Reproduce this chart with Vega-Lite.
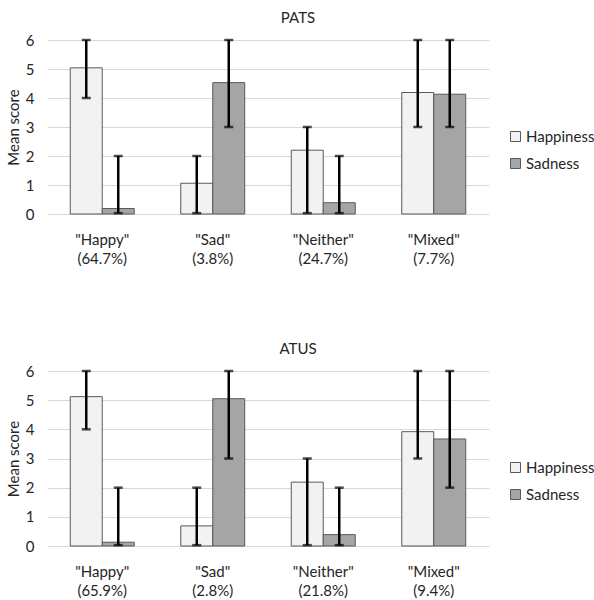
{
  "$schema": "https://vega.github.io/schema/vega-lite/v6.json",
  "padding": {"top": 11, "left": 6, "right": 0, "bottom": 4},
  "background": "white",
  "config": {
    "font": "Lato",
    "view": {"stroke": null},
    "title": {"fontSize": 15, "fontWeight": "normal", "color": "#262626", "font": "Lato", "offset": 7, "dx": 30},
    "axisY": {"labelFont": "Lato", "labelFontSize": 15, "labelColor": "#262626", "titleFont": "Lato", "titleFontSize": 15, "titleFontWeight": "normal", "titleColor": "#262626", "grid": true, "gridColor": "#d9d9d9", "domain": false, "ticks": false, "labelPadding": 13, "titlePadding": 4, "labelOverlap": false}
  },
  "datasets": {
    "pats": [
      {"cat": "\"Happy\"|(64.7%)", "series": "Happiness", "mean": 5.04, "lo": 4, "hi": 6},
      {"cat": "\"Happy\"|(64.7%)", "series": "Sadness", "mean": 0.19, "lo": 0.03, "hi": 2},
      {"cat": "\"Sad\"|(3.8%)", "series": "Happiness", "mean": 1.06, "lo": 0.03, "hi": 2},
      {"cat": "\"Sad\"|(3.8%)", "series": "Sadness", "mean": 4.53, "lo": 3, "hi": 6},
      {"cat": "\"Neither\"|(24.7%)", "series": "Happiness", "mean": 2.2, "lo": 0.03, "hi": 3},
      {"cat": "\"Neither\"|(24.7%)", "series": "Sadness", "mean": 0.39, "lo": 0.03, "hi": 2},
      {"cat": "\"Mixed\"|(7.7%)", "series": "Happiness", "mean": 4.19, "lo": 3, "hi": 6},
      {"cat": "\"Mixed\"|(7.7%)", "series": "Sadness", "mean": 4.13, "lo": 3, "hi": 6}
    ],
    "atus": [
      {"cat": "\"Happy\"|(65.9%)", "series": "Happiness", "mean": 5.12, "lo": 4, "hi": 6},
      {"cat": "\"Happy\"|(65.9%)", "series": "Sadness", "mean": 0.13, "lo": 0.03, "hi": 2},
      {"cat": "\"Sad\"|(2.8%)", "series": "Happiness", "mean": 0.69, "lo": 0.03, "hi": 2},
      {"cat": "\"Sad\"|(2.8%)", "series": "Sadness", "mean": 5.05, "lo": 3, "hi": 6},
      {"cat": "\"Neither\"|(21.8%)", "series": "Happiness", "mean": 2.19, "lo": 0.03, "hi": 3},
      {"cat": "\"Neither\"|(21.8%)", "series": "Sadness", "mean": 0.39, "lo": 0.03, "hi": 2},
      {"cat": "\"Mixed\"|(9.4%)", "series": "Happiness", "mean": 3.92, "lo": 3, "hi": 6},
      {"cat": "\"Mixed\"|(9.4%)", "series": "Sadness", "mean": 3.67, "lo": 2, "hi": 6}
    ]
  },
  "spacing": 76,
  "resolve": {"scale": {"color": "independent", "x": "independent", "xOffset": "independent"}},
  "vconcat": [
    {
      "title": {"text": "PATS"},
      "width": 442,
      "height": 174,
      "data": {"name": "pats"},
      "encoding": {
        "x": {"field": "cat", "type": "nominal", "sort": null, "scale": {"paddingInner": 0, "paddingOuter": 0},
          "axis": {"title": null, "labelAngle": 0, "labelExpr": "split(datum.label, '|')", "labelFont": "Lato", "labelFontSize": 15, "labelColor": "#262626", "labelLineHeight": 19, "labelPadding": 18, "ticks": false, "domain": false, "labelBaseline": "top"}},
        "xOffset": {"field": "series", "type": "nominal", "scale": {"paddingInner": 0, "paddingOuter": 0.727}}
      },
      "layer": [
        {
          "mark": {"type": "bar", "stroke": "#595959", "strokeWidth": 1},
          "encoding": {
            "y": {"field": "mean", "type": "quantitative", "scale": {"domain": [0, 6], "nice": false},
              "axis": {"title": "Mean score", "values": [0, 1, 2, 3, 4, 5, 6]}},
            "color": {"field": "series", "type": "nominal", "scale": {"domain": ["Happiness", "Sadness"], "range": ["#f2f2f2", "#a5a5a5"]},
              "legend": {"title": null, "orient": "none", "legendX": 461, "legendY": 89, "labelFont": "Lato", "labelFontSize": 15, "labelColor": "#262626", "symbolType": "square", "symbolSize": 100, "symbolStrokeColor": "#595959", "symbolStrokeWidth": 1, "rowPadding": 11, "labelOffset": 3}}
          }
        },
        {
          "mark": {"type": "rule", "color": "black", "strokeWidth": 2.5},
          "encoding": {"y": {"field": "lo", "type": "quantitative", "axis": {"title": "Mean score", "values": [0, 1, 2, 3, 4, 5, 6]}}, "y2": {"field": "hi"}}
        },
        {
          "mark": {"type": "tick", "color": "black", "thickness": 2.5, "size": 9, "orient": "horizontal"},
          "encoding": {"y": {"field": "lo", "type": "quantitative", "axis": {"title": "Mean score", "values": [0, 1, 2, 3, 4, 5, 6]}}}
        },
        {
          "mark": {"type": "tick", "color": "black", "thickness": 2.5, "size": 9, "orient": "horizontal"},
          "encoding": {"y": {"field": "hi", "type": "quantitative", "axis": {"title": "Mean score", "values": [0, 1, 2, 3, 4, 5, 6]}}}
        }
      ]
    },
    {
      "title": {"text": "ATUS"},
      "width": 442,
      "height": 175,
      "data": {"name": "atus"},
      "encoding": {
        "x": {"field": "cat", "type": "nominal", "sort": null, "scale": {"paddingInner": 0, "paddingOuter": 0},
          "axis": {"title": null, "labelAngle": 0, "labelExpr": "split(datum.label, '|')", "labelFont": "Lato", "labelFontSize": 15, "labelColor": "#262626", "labelLineHeight": 19, "labelPadding": 18, "ticks": false, "domain": false, "labelBaseline": "top"}},
        "xOffset": {"field": "series", "type": "nominal", "scale": {"paddingInner": 0, "paddingOuter": 0.727}}
      },
      "layer": [
        {
          "mark": {"type": "bar", "stroke": "#595959", "strokeWidth": 1},
          "encoding": {
            "y": {"field": "mean", "type": "quantitative", "scale": {"domain": [0, 6], "nice": false},
              "axis": {"title": "Mean score", "values": [0, 1, 2, 3, 4, 5, 6]}},
            "color": {"field": "series", "type": "nominal", "scale": {"domain": ["Happiness", "Sadness"], "range": ["#f2f2f2", "#a5a5a5"]},
              "legend": {"title": null, "orient": "none", "legendX": 461, "legendY": 89, "labelFont": "Lato", "labelFontSize": 15, "labelColor": "#262626", "symbolType": "square", "symbolSize": 100, "symbolStrokeColor": "#595959", "symbolStrokeWidth": 1, "rowPadding": 11, "labelOffset": 3}}
          }
        },
        {
          "mark": {"type": "rule", "color": "black", "strokeWidth": 2.5},
          "encoding": {"y": {"field": "lo", "type": "quantitative", "axis": {"title": "Mean score", "values": [0, 1, 2, 3, 4, 5, 6]}}, "y2": {"field": "hi"}}
        },
        {
          "mark": {"type": "tick", "color": "black", "thickness": 2.5, "size": 9, "orient": "horizontal"},
          "encoding": {"y": {"field": "lo", "type": "quantitative", "axis": {"title": "Mean score", "values": [0, 1, 2, 3, 4, 5, 6]}}}
        },
        {
          "mark": {"type": "tick", "color": "black", "thickness": 2.5, "size": 9, "orient": "horizontal"},
          "encoding": {"y": {"field": "hi", "type": "quantitative", "axis": {"title": "Mean score", "values": [0, 1, 2, 3, 4, 5, 6]}}}
        }
      ]
    }
  ]
}
